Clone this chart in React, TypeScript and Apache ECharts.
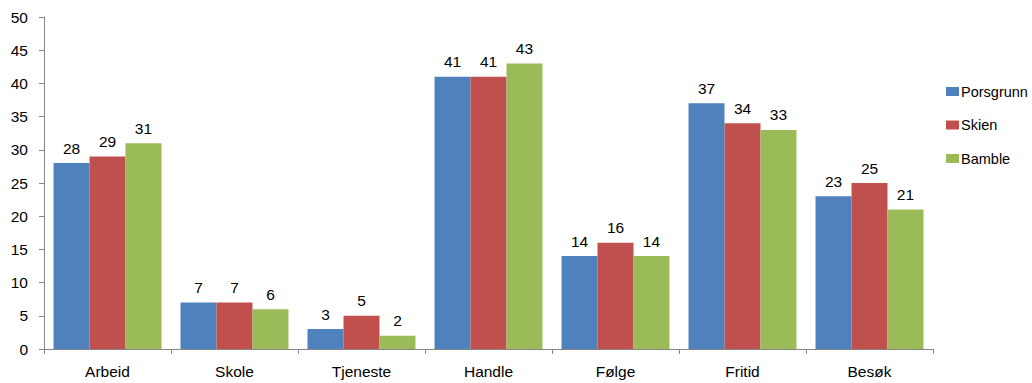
import React, { useEffect, useRef } from "react";
import * as echarts from "echarts";

const categories = ["Arbeid", "Skole", "Tjeneste", "Handle", "Følge", "Fritid", "Besøk"];
const porsgrunn = [28, 7, 3, 41, 14, 37, 23];
const skien = [29, 7, 5, 41, 16, 34, 25];
const bamble = [31, 6, 2, 43, 14, 33, 21];
const seriesNames = ["Porsgrunn", "Skien", "Bamble"];
const colors = ["#4F81BD", "#C0504D", "#9BBB59"];

const FONT = "'Liberation Sans', Arial, sans-serif";
const FS = 15.5;

export default function App() {
  const ref = useRef<HTMLDivElement>(null);
  useEffect(() => {
    if (!ref.current) return;
    const chart = echarts.init(ref.current, null, { renderer: "svg" });
    const values = [porsgrunn, skien, bamble];
    chart.setOption({
      animation: false,
      textStyle: { fontFamily: FONT },
      grid: { left: 44, right: 99, top: 17, bottom: 34, containLabel: false },
      legend: {
        orient: "vertical",
        left: 946,
        top: 84,
        padding: 0,
        itemWidth: 13,
        itemHeight: 9,
        itemGap: 18.5,
        itemStyle: { borderWidth: 0 },
        icon: "rect",
        data: seriesNames,
        textStyle: { fontFamily: FONT, fontSize: 14.5, color: "#000", padding: [0, 0, 0, -3] },
      },
      xAxis: {
        type: "category",
        data: categories,
        axisLine: { lineStyle: { color: "#868686" } },
        axisTick: { show: true, length: 5, alignWithLabel: false, lineStyle: { color: "#868686" } },
        axisLabel: { color: "#000", fontSize: FS, fontFamily: FONT, margin: 14 },
      },
      yAxis: {
        type: "value",
        min: 0,
        max: 50,
        interval: 5,
        splitLine: { show: false },
        axisLine: { show: true, lineStyle: { color: "#868686" } },
        axisTick: { show: true, length: 5, lineStyle: { color: "#868686" } },
        axisLabel: { color: "#000", fontSize: FS, fontFamily: FONT, margin: 16 },
      },
      series: seriesNames.map((name, i) => ({
        name,
        type: "bar",
        data: values[i],
        barGap: "0%",
        barCategoryGap: "15%",
        itemStyle: { color: colors[i] },
        label: {
          show: true,
          position: "top",
          distance: 7,
          color: "#000",
          fontSize: FS,
          fontFamily: FONT,
        },
      })),
    });
    return () => chart.dispose();
  }, []);
  return <div ref={ref} style={{ width: 1032, height: 383, position: "absolute", left: 0, top: 0, background: "#fff" }} />;
}
